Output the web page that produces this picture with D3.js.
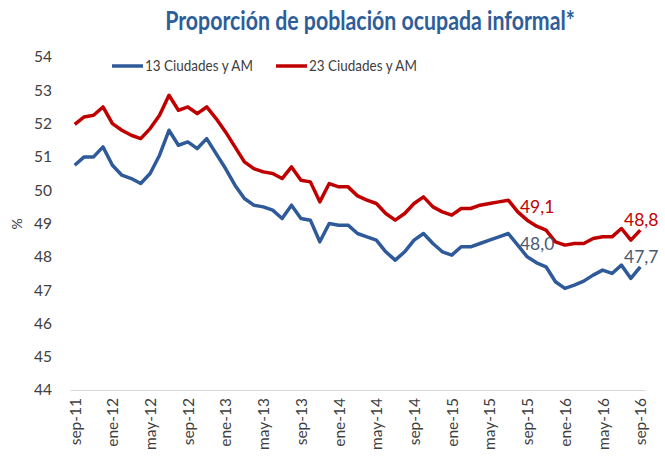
<!DOCTYPE html>
<html>
<head>
<meta charset="utf-8">
<script src="https://cdn.jsdelivr.net/npm/d3@7"></script>
<style>
  body { margin: 0; background: #fff; }
  text { font-family: Lato, "Open Sans", sans-serif; }
</style>
</head>
<body>
<script>
const width = 665
const height = 458

const months = [
  'sep-11','oct-11','nov-11','dic-11',
  'ene-12','feb-12','mar-12','abr-12','may-12','jun-12','jul-12','ago-12','sep-12','oct-12','nov-12','dic-12',
  'ene-13','feb-13','mar-13','abr-13','may-13','jun-13','jul-13','ago-13','sep-13','oct-13','nov-13','dic-13',
  'ene-14','feb-14','mar-14','abr-14','may-14','jun-14','jul-14','ago-14','sep-14','oct-14','nov-14','dic-14',
  'ene-15','feb-15','mar-15','abr-15','may-15','jun-15','jul-15','ago-15','sep-15','oct-15','nov-15','dic-15',
  'ene-16','feb-16','mar-16','abr-16','may-16','jun-16','jul-16','ago-16','sep-16'
]

// 13 ciudades y areas metropolitanas
const trece = [
  50.75, 51.0, 51.0, 51.3,
  50.75, 50.45, 50.35, 50.2, 50.5, 51.05, 51.8, 51.35, 51.45, 51.25, 51.55, 51.1,
  50.65, 50.15, 49.75, 49.55, 49.5, 49.4, 49.15, 49.55, 49.15, 49.1, 48.45, 49.0,
  48.95, 48.95, 48.7, 48.6, 48.5, 48.15, 47.9, 48.15, 48.5, 48.7, 48.4, 48.15,
  48.05, 48.3, 48.3, 48.4, 48.5, 48.6, 48.7, 48.35, 48.0, 47.82, 47.7, 47.25,
  47.05, 47.15, 47.27, 47.45, 47.6, 47.5, 47.75, 47.35, 47.7
]

// 23 ciudades y areas metropolitanas
const veintitres = [
  51.98, 52.2, 52.25, 52.5,
  52.0, 51.8, 51.65, 51.55, 51.85, 52.25, 52.85, 52.4, 52.5, 52.3, 52.5, 52.15,
  51.75, 51.3, 50.85, 50.65, 50.55, 50.5, 50.35, 50.7, 50.3, 50.25, 49.65, 50.2,
  50.1, 50.1, 49.83, 49.7, 49.6, 49.3, 49.1, 49.3, 49.6, 49.8, 49.5, 49.35,
  49.25, 49.45, 49.45, 49.55, 49.6, 49.65, 49.7, 49.35, 49.1, 48.92, 48.8, 48.45,
  48.35, 48.4, 48.4, 48.55, 48.6, 48.6, 48.85, 48.5, 48.8
]

const yTicks = [44, 45, 46, 47, 48, 49, 50, 51, 52, 53, 54]
const xTicks = months.filter((m, i) => i % 4 === 0)

const seriesNames = ['13 Ciudades y AM', '23 Ciudades y AM']
const colors = ['#2F5A9A', '#C00000']
const labelColors = ['#4A5A72', '#C00000']

// [serie, mes, texto]
const dataLabels = [
  [1, 'sep-15', '49,1'],
  [0, 'sep-15', '48,0'],
  [1, 'sep-16', '48,8'],
  [0, 'sep-16', '47,7']
]

const svg = d3.select('body').append('svg')
  .attr('width', width)
  .attr('height', height)

const x = d3.scalePoint()
  .domain(months)
  .range([70, 645])
  .padding(0.5)

const y = d3.scaleLinear()
  .domain([44, 54])
  .range([390, 57])

// titulo: fuente mas ancha que Calibri, se comprime en x
const title = svg.append('text')
  .attr('text-anchor', 'middle')
  .attr('font-size', 27)
  .attr('font-weight', 'bold')
  .attr('fill', '#2E5E9A')
  .text('Proporción de población ocupada informal*')
const tw = title.node().getComputedTextLength()
title.attr('transform', `translate(370,30) scale(${410 / tw},1)`)

// eje y
const yAxis = svg.append('g')
  .attr('transform', 'translate(52,0)')
  .call(d3.axisLeft(y).tickValues(yTicks).tickSize(0).tickPadding(0).tickFormat(d3.format('d')))
yAxis.select('.domain').remove()
yAxis.selectAll('text')
  .attr('font-size', 15.5)
  .attr('fill', '#404040')
  .attr('font-family', 'Lato, sans-serif')

svg.append('text')
  .attr('transform', 'translate(22,224) rotate(-90)')
  .attr('text-anchor', 'middle')
  .attr('font-size', 14)
  .attr('fill', '#404040')
  .text('%')

// eje x
const xAxis = svg.append('g')
  .attr('transform', `translate(0,${y(44)})`)
  .call(d3.axisBottom(x).tickValues(xTicks).tickSize(0).tickPadding(0))
xAxis.select('.domain')
  .attr('stroke', '#D9D9D9')
  .attr('stroke-width', 1)
xAxis.selectAll('text')
  .attr('font-size', 15.5)
  .attr('fill', '#404040')
  .attr('font-family', 'Lato, sans-serif')
  .attr('text-anchor', 'end')
  .attr('dy', '0.35em')
  .attr('transform', 'translate(0,8) rotate(-90)')
  .attr('x', 0)
  .attr('y', 0)

// lineas
const line = d3.line()
  .x((d, i) => x(months[i]))
  .y(d => y(d))

const series = [trece, veintitres]

svg.selectAll('.serie')
  .data(series)
  .join('path')
  .classed('serie', true)
  .attr('fill', 'none')
  .attr('stroke', (d, i) => colors[i])
  .attr('stroke-width', 3.5)
  .attr('stroke-linejoin', 'round')
  .attr('d', line)

// etiquetas de datos
svg.selectAll('.etq')
  .data(dataLabels)
  .join('text')
  .classed('etq', true)
  .attr('x', d => x(d[1]) + (d[1] === 'sep-15' ? 10 : 1))
  .attr('y', d => y(series[d[0]][months.indexOf(d[1])]) - (d[1] === 'sep-15' ? 7 : 4))
  .attr('text-anchor', 'middle')
  .attr('font-size', 17.5)
  .attr('fill', d => labelColors[d[0]])
  .text(d => d[2])

// leyenda
const legend = svg.append('g')
const legX = [112, 276]
seriesNames.forEach((name, i) => {
  legend.append('line')
    .attr('x1', legX[i]).attr('x2', legX[i] + 31)
    .attr('y1', 66).attr('y2', 66)
    .attr('stroke', colors[i])
    .attr('stroke-width', 3.5)
  const t = legend.append('text')
    .attr('font-size', 15.5)
    .attr('fill', '#404040')
    .text(name)
  const lw = t.node().getComputedTextLength()
  t.attr('transform', `translate(${legX[i] + 33},71) scale(${108 / lw},1)`)
})
</script>
</body>
</html>
